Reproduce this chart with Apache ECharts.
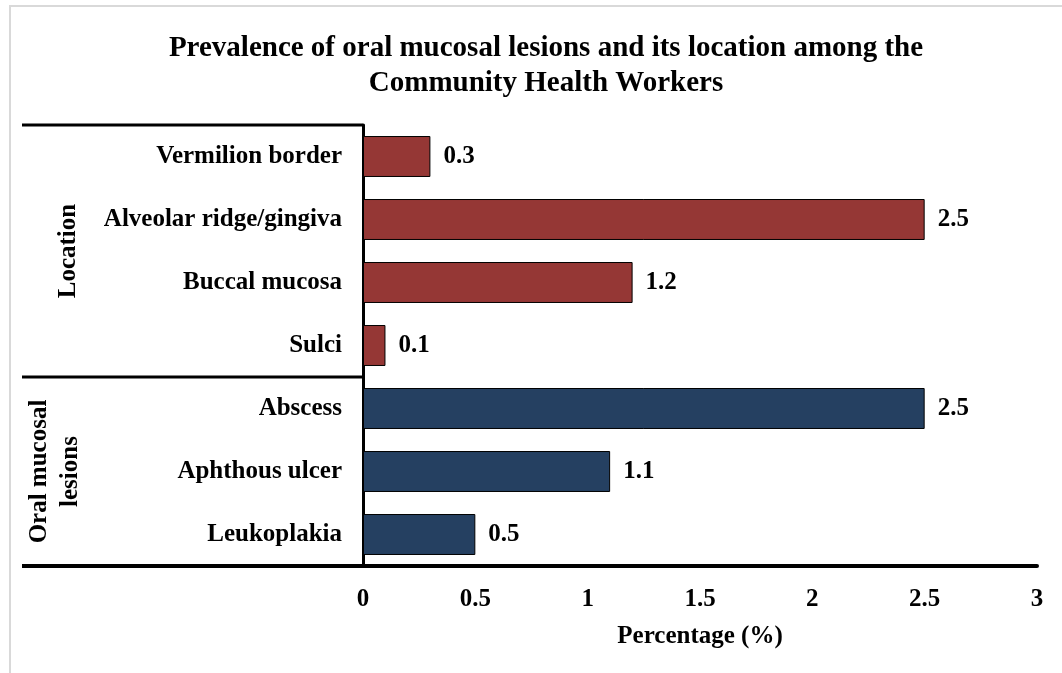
<!DOCTYPE html>
<html>
<head>
<meta charset="utf-8">
<script src="https://cdn.jsdelivr.net/npm/echarts@6/dist/echarts.min.js"></script>
<style>
html,body{margin:0;padding:0;background:#fff;}
#chart{width:1062px;height:673px;}
</style>
</head>
<body>
<div id="chart"></div>
<script>
const titleText = 'Prevalence of oral mucosal lesions and its location among the\nCommunity Health Workers';
const locationGroup = 'Location';
const locationCats = ['Vermilion border', 'Alveolar ridge/gingiva', 'Buccal mucosa', 'Sulci'];
const locationValues = [0.3, 2.5, 1.2, 0.1];
const lesionGroup = 'Oral mucosal\nlesions';
const lesionCats = ['Abscess', 'Aphthous ulcer', 'Leukoplakia'];
const lesionValues = [2.5, 1.1, 0.5];
const xAxisName = 'Percentage (%)';
const xMin = 0, xMax = 3, xStep = 0.5;

const locationColor = '#953735';
const lesionColor = '#254061';
const FONT = '"Liberation Serif", "Times New Roman", serif';

const categories = locationCats.concat(lesionCats);
const data = locationValues.map(v => ({value: v, itemStyle: {color: locationColor}}))
  .concat(lesionValues.map(v => ({value: v, itemStyle: {color: lesionColor}})));

const chart = echarts.init(document.getElementById('chart'), null, {renderer: 'canvas'});
const option = {
  animation: false,
  backgroundColor: '#fff',
  title: {
    text: titleText,
    left: 541, textAlign: 'center',
    top: 26,
    textStyle: {fontFamily: FONT, fontSize: 29, fontWeight: 'bold', color: '#000', lineHeight: 35}
  },
  grid: {left: 363, right: 25, top: 125, bottom: 107, containLabel: false},
  xAxis: {
    type: 'value', min: xMin, max: xMax, interval: xStep,
    name: xAxisName, nameLocation: 'middle', nameGap: 58,
    nameTextStyle: {fontFamily: FONT, fontSize: 25, fontWeight: 'bold', color: '#000'},
    axisLine: {show: true, lineStyle: {color: '#000', width: 4}},
    axisTick: {show: false},
    splitLine: {show: false},
    axisLabel: {fontFamily: FONT, fontSize: 25, fontWeight: 'bold', color: '#000', margin: 21}
  },
  yAxis: {
    type: 'category', data: categories, inverse: true,
    axisLine: {show: true, lineStyle: {color: '#000', width: 3}},
    axisTick: {show: false},
    axisLabel: {fontFamily: FONT, fontSize: 25, fontWeight: 'bold', color: '#000', margin: 21}
  },
  series: [{
    type: 'bar', data: data, barCategoryGap: '35%',
    itemStyle: {borderColor: '#000', borderWidth: 1},
    label: {show: true, position: 'right', distance: 13, fontFamily: FONT, fontSize: 25, fontWeight: 'bold', color: '#000'}
  }]
};
chart.setOption(option);

function drawDecor() {
  const yTop = chart.convertToPixel({yAxisIndex: 0}, categories[0]);
  const y2 = chart.convertToPixel({yAxisIndex: 0}, categories[1]);
  const band = y2 - yTop;
  const top = yTop - band / 2;
  const split = chart.convertToPixel({yAxisIndex: 0}, categories[locationCats.length]) - band / 2;
  const bottom = chart.convertToPixel({yAxisIndex: 0}, categories[categories.length - 1]) + band / 2;
  const x0 = chart.convertToPixel({xAxisIndex: 0}, xMin);
  const left = 22;
  const line = (y, w) => ({type: 'line', shape: {x1: left, y1: y, x2: x0, y2: y}, style: {stroke: '#000', lineWidth: w}, z: 10});
  chart.setOption({
    graphic: [
      {type: 'polyline', shape: {points: [[10, 673], [10, 6], [1062, 6]]}, style: {stroke: '#d9d9d9', lineWidth: 2, fill: null}},
      line(top, 3),
      line(split, 3),
      line(bottom, 4),
      {type: 'text', x: 69, y: (top + split) / 2, rotation: Math.PI / 2,
        style: {text: locationGroup, fontFamily: FONT, fontSize: 25, fontWeight: 'bold', fill: '#000', align: 'center', verticalAlign: 'middle'}},
      {type: 'text', x: 55, y: (split + bottom) / 2, rotation: Math.PI / 2,
        style: {text: lesionGroup, fontFamily: FONT, fontSize: 25, fontWeight: 'bold', fill: '#000', align: 'center', verticalAlign: 'middle', lineHeight: 31}}
    ]
  });
}
drawDecor();
</script>
</body>
</html>
